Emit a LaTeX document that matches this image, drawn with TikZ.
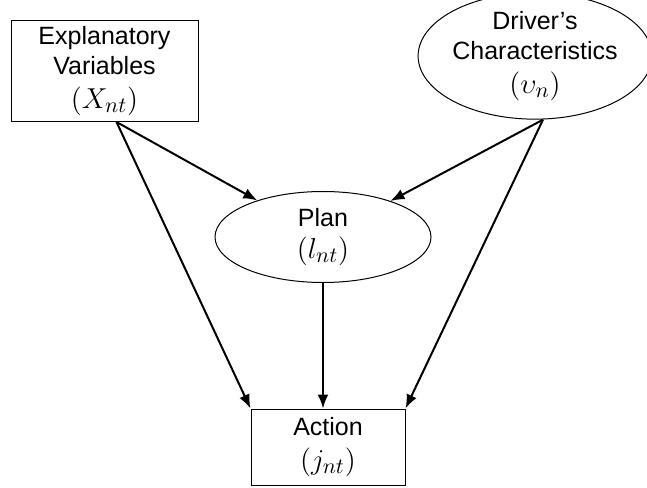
\documentclass[tikz,border=0pt]{standalone}
\usepackage{amsmath}
\usepackage{fontspec}
\setmainfont{Liberation Sans}
\usetikzlibrary{shapes.geometric, arrows.meta}

\begin{document}
\begin{tikzpicture}[x=0.5pt, y=-0.5pt,
    box/.style={draw, line width=0.5pt, rectangle, align=center, inner sep=0pt,
      font=\fontsize{12.5}{15}\selectfont},
    oval/.style={draw, line width=0.5pt, ellipse, align=center, inner sep=0pt,
      font=\fontsize{12.5}{15}\selectfont},
    link/.style={-{Latex[length=7pt, width=5.5pt]}, line width=1pt},
  ]
    \useasboundingbox (0, 0) rectangle (647, 487);

    \node[box, minimum width=93.5pt, minimum height=50.5pt] (expl) at (104.5, 71)
      {Explanatory\\Variables\\[2pt]{\fontsize{15}{15}\selectfont$(X_{nt})$}};
    \node[oval, minimum width=114pt, minimum height=55pt] (driver) at (535, 56)
      {Driver's\\Characteristics\\[2pt]{\fontsize{15}{15}\selectfont$(\upsilon_{n})$}};
    \node[oval, minimum width=108pt, minimum height=45.5pt] (plan) at (323, 237)
      {Plan\\[1pt]{\fontsize{15}{15}\selectfont$(l_{nt})$}};
    \node[box, minimum width=77pt, minimum height=38pt] (action) at (328, 447)
      {Action\\[2pt]{\fontsize{15}{15}\selectfont$(j_{nt})$}};

    % edges
    \draw[link] ([xshift=6pt]expl.south) -- (plan);
    \draw[link] ([xshift=6pt]expl.south) -- (action.north west);
    \draw[link] ([xshift=4pt]driver.south) -- (plan);
    \draw[link] ([xshift=4pt]driver.south) -- (action.north east);
    \draw[link] (plan.south) -- (plan.south |- action.north);

  \end{tikzpicture}
\end{document}
